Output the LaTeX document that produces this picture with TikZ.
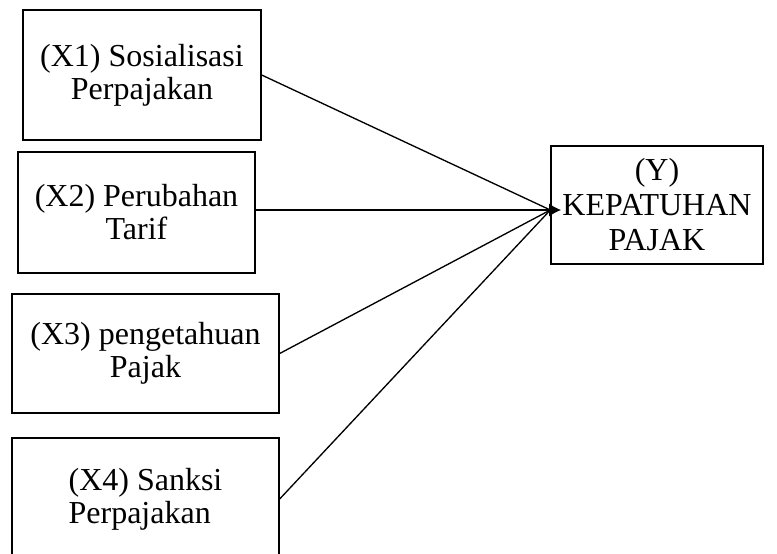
\documentclass[tikz,border=0pt]{standalone}
\usepackage{fontspec}
\setmainfont{Liberation Serif}
\usetikzlibrary{arrows.meta}
\begin{document}
\begin{tikzpicture}[x=0.75pt,y=-0.75pt,
  varbox/.style={draw=black,line width=1pt,rectangle,inner sep=0pt,align=center,
    font=\fontsize{24}{24.75}\selectfont},
  link/.style={draw=black,line width=1pt}]
\useasboundingbox (0,0) rectangle (777,553);
\node[varbox,minimum width=178.5pt,minimum height=97.5pt] (x1) at (142,75) {(X1) Sosialisasi\\Perpajakan};
\node[varbox,minimum width=177.75pt,minimum height=90.75pt] (x2) at (136.5,212.5) {(X2) Perubahan\\Tarif};
\node[varbox,minimum width=200.25pt,minimum height=89.25pt] (x3) at (145.5,353.5) {(X3) pengetahuan\\Pajak};
\node[varbox,minimum width=200.25pt,minimum height=91.5pt,align=left] (x4) at (145.5,499) {(X4) Sanksi\\Perpajakan};
\node[varbox,minimum width=159pt,minimum height=88.5pt,font=\fontsize{24}{26.25}\selectfont] (y) at (657,205) {(Y)\\KEPATUHAN\\PAJAK};
\coordinate (yin) at ([yshift=-3.75pt]y.west);
\coordinate (ytip) at ([xshift=8pt,yshift=-3.75pt]y.west);
\draw[link] (x1.east) -- (yin);
\draw[link] (x3.east) -- (yin);
\draw[link] (x4.east) -- (yin);
\draw[link,-{Latex[length=9pt,width=10pt]}] (x2.east |- yin) -- (ytip);
\end{tikzpicture}
\end{document}
